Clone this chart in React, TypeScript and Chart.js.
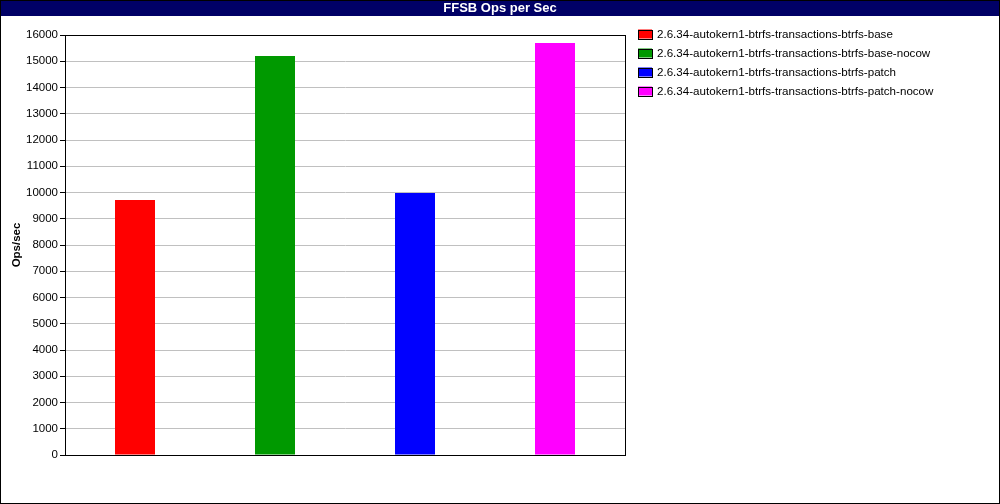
import React, { useEffect, useRef } from 'react';
import Chart from 'chart.js/auto';

const categories = ['', '', '', ''];
const seriesNames = [
  '2.6.34-autokern1-btrfs-transactions-btrfs-base',
  '2.6.34-autokern1-btrfs-transactions-btrfs-base-nocow',
  '2.6.34-autokern1-btrfs-transactions-btrfs-patch',
  '2.6.34-autokern1-btrfs-transactions-btrfs-patch-nocow',
];
const opsPerSec = [9710, 15200, 9980, 15700];
const seriesColors = ['#ff0000', '#009900', '#0000ff', '#ff00ff'];
const yTicks = { min: 0, max: 16000, step: 1000 };
const chartTitle = 'FFSB Ops per Sec';

const FONT = '"Liberation Sans", Arial, sans-serif';

// title strip, legend on the right and the thin frames
const framePlugin = {
  id: 'frames',
  beforeDraw(chart: any) {
    const { ctx, width } = chart;
    ctx.save();
    ctx.fillStyle = '#000066';
    ctx.fillRect(0, 0, width, 16);
    ctx.fillStyle = '#fff';
    ctx.font = `bold 13px ${FONT}`;
    ctx.textAlign = 'center';
    ctx.textBaseline = 'middle';
    ctx.fillText(chartTitle, width / 2, 8.5);
    ctx.restore();
  },
  afterDraw(chart: any) {
    const { ctx, width, height, chartArea } = chart;
    ctx.save();
    ctx.strokeStyle = '#000';
    ctx.lineWidth = 1;
    ctx.strokeRect(0.5, 0.5, width - 1, height - 1);
    const l = Math.round(chartArea.left) + 0.5;
    const t = Math.round(chartArea.top) + 0.5;
    const r = Math.round(chartArea.right) + 0.5;
    const b = Math.round(chartArea.bottom) + 0.5;
    ctx.strokeRect(l, t, r - l, b - t);

    // legend
    ctx.font = `11.6px ${FONT}`;
    ctx.textAlign = 'left';
    ctx.textBaseline = 'middle';
    chart.data.datasets.forEach((ds: any, i: number) => {
      const cy = 34 + i * 19;
      ctx.fillStyle = ds.backgroundColor;
      ctx.fillRect(638, cy - 4.5, 14, 9);
      ctx.strokeStyle = '#000';
      ctx.strokeRect(638.5, Math.round(cy - 4.5) + 0.5, 14, 9);
      ctx.fillStyle = '#000';
      ctx.fillText(ds.label, 657, cy + 0.5);
    });
    ctx.restore();
  },
};

const App: React.FC = () => {
  const canvasRef = useRef<HTMLCanvasElement>(null);
  const chartRef = useRef<Chart | null>(null);

  useEffect(() => {
    if (!canvasRef.current) return;
    if (chartRef.current) chartRef.current.destroy();

    const datasets = seriesNames.map((name, i) => ({
      label: name,
      data: categories.map((_, j) => (j === i ? opsPerSec[i] : null)),
      backgroundColor: seriesColors[i],
      borderWidth: 0,
      skipNull: true,
      barPercentage: 40 / 140,
      categoryPercentage: 1,
    }));

    chartRef.current = new Chart(canvasRef.current, {
      type: 'bar',
      data: { labels: categories, datasets },
      plugins: [framePlugin],
      options: {
        responsive: true,
        maintainAspectRatio: false,
        animation: false,
        layout: { padding: { left: 0, right: 375, top: 35, bottom: 0 } },
        plugins: {
          title: { display: false },
          legend: { display: false },
          tooltip: { enabled: false },
        },
        scales: {
          x: {
            grid: { display: false },
            border: { display: true, color: '#000' },
            ticks: { display: false },
            afterFit: (s: any) => {
              s.height = 49;
            },
          },
          y: {
            min: yTicks.min,
            max: yTicks.max,
            ticks: {
              stepSize: yTicks.step,
              color: '#000',
              padding: 2,
              font: { family: FONT, size: 11.5 },
              callback: (v: any) => String(v),
            },
            grid: { color: '#c0c0c0', tickColor: '#000', tickLength: 5 },
            border: { color: '#000' },
            title: {
              display: true,
              text: 'Ops/sec',
              color: '#000',
              font: { family: FONT, size: 11.5, weight: 'bold' },
              padding: { top: 10, bottom: 0 },
            },
            afterFit: (s: any) => {
              s.width = 65;
            },
          },
        },
      },
    });

    return () => {
      if (chartRef.current) {
        chartRef.current.destroy();
        chartRef.current = null;
      }
    };
  }, []);

  return (
    <div style={{ position: 'absolute', left: 0, top: 0, width: 1000, height: 504, background: '#fff' }}>
      <canvas ref={canvasRef}></canvas>
    </div>
  );
};

export default App;
